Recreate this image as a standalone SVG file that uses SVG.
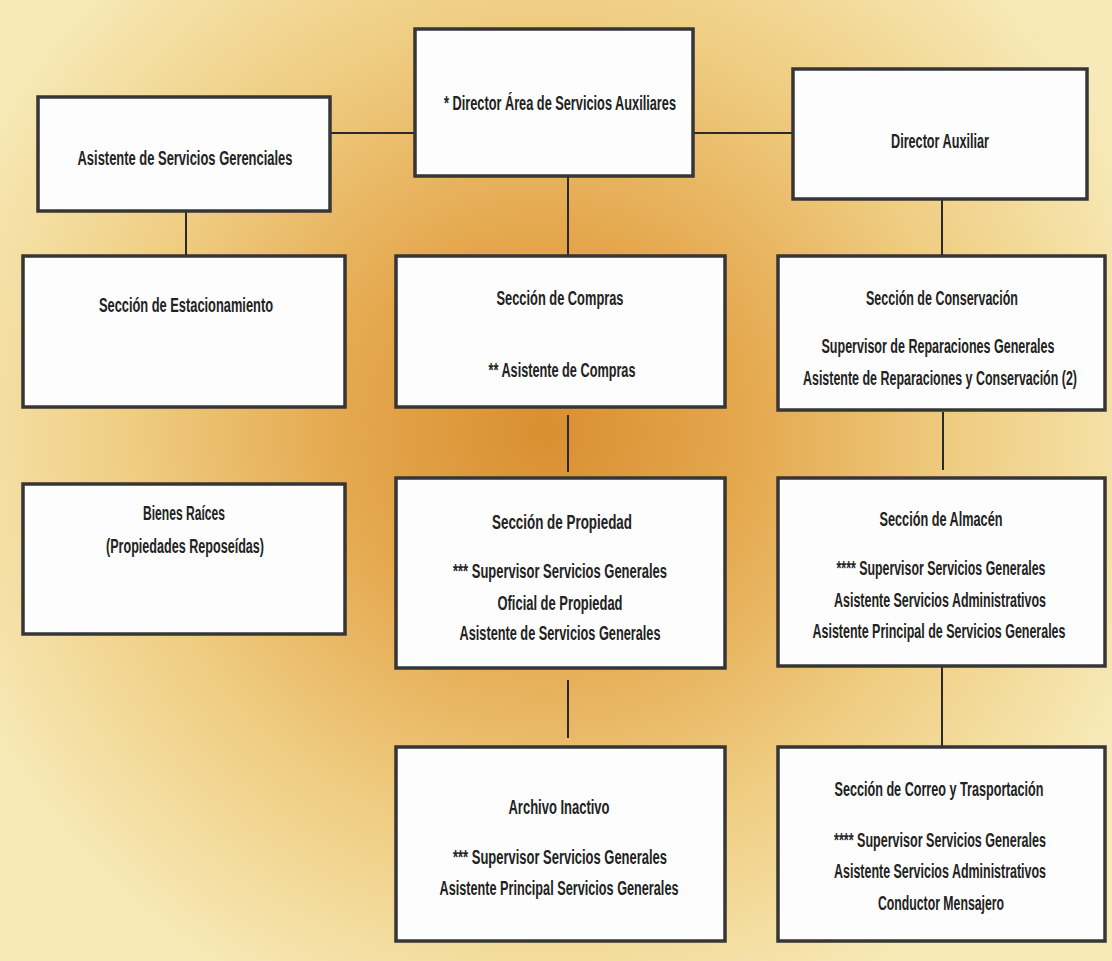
<svg xmlns="http://www.w3.org/2000/svg" width="1112" height="961" viewBox="0 0 1112 961">
<defs>
<radialGradient id="bg" gradientUnits="userSpaceOnUse" cx="545" cy="430" r="640">
<stop offset="0" stop-color="#d98f30"/>
<stop offset="0.3" stop-color="#e4a64c"/>
<stop offset="0.65" stop-color="#efcd82"/>
<stop offset="1" stop-color="#f7eab8"/>
</radialGradient>
<style>
.box{fill:#fdfdfd;stroke:#363636;stroke-width:3.5}
.ln{stroke:#2a2a2a;stroke-width:2;fill:none}
text{font-family:"Liberation Sans",Arial,sans-serif;font-size:20px;font-weight:bold;fill:#222;text-anchor:middle}
</style>
</defs>
<rect x="0" y="0" width="1112" height="961" fill="url(#bg)"/>
<g id="connectors">
<line class="ln" x1="330" y1="133" x2="415" y2="133"/>
<line class="ln" x1="693" y1="133" x2="793" y2="133"/>
<line class="ln" x1="568" y1="176" x2="568" y2="256"/>
<line class="ln" x1="186" y1="211" x2="186" y2="256"/>
<line class="ln" x1="942" y1="199" x2="942" y2="256"/>
<line class="ln" x1="568" y1="415" x2="568" y2="472"/>
<line class="ln" x1="943" y1="412" x2="943" y2="470"/>
<line class="ln" x1="568" y1="680" x2="568" y2="738"/>
<line class="ln" x1="942" y1="666" x2="942" y2="747"/>
</g>
<g id="n-director">
<rect class="box" x="415" y="29" width="278" height="147"/>
<text x="560" y="110" textLength="232" lengthAdjust="spacingAndGlyphs">* Director Área de Servicios Auxiliares</text>
</g>
<g id="n-gerenciales">
<rect class="box" x="38" y="97" width="292" height="114"/>
<text x="185" y="165" textLength="215" lengthAdjust="spacingAndGlyphs">Asistente de  Servicios Gerenciales</text>
</g>
<g id="n-auxiliar">
<rect class="box" x="793" y="69" width="294" height="130"/>
<text x="940" y="148" textLength="98" lengthAdjust="spacingAndGlyphs">Director  Auxiliar</text>
</g>
<g id="n-estacionamiento">
<rect class="box" x="23" y="256" width="322" height="151"/>
<text x="186" y="312" textLength="174" lengthAdjust="spacingAndGlyphs">Sección de Estacionamiento</text>
</g>
<g id="n-compras">
<rect class="box" x="396" y="256" width="329" height="151"/>
<text x="560" y="305" textLength="127" lengthAdjust="spacingAndGlyphs">Sección de Compras</text>
<text x="562" y="377" textLength="147" lengthAdjust="spacingAndGlyphs">** Asistente de Compras</text>
</g>
<g id="n-conservacion">
<rect class="box" x="778" y="256" width="327" height="154"/>
<text x="942" y="305" textLength="152" lengthAdjust="spacingAndGlyphs">Sección de Conservación</text>
<text x="938" y="353" textLength="233" lengthAdjust="spacingAndGlyphs">Supervisor de Reparaciones Generales</text>
<text x="940" y="385" textLength="274" lengthAdjust="spacingAndGlyphs">Asistente de Reparaciones y Conservación (2)</text>
</g>
<g id="n-bienes">
<rect class="box" x="23" y="484" width="322" height="150"/>
<text x="184" y="520" textLength="82" lengthAdjust="spacingAndGlyphs">Bienes Raíces</text>
<text x="185" y="553" textLength="158" lengthAdjust="spacingAndGlyphs">(Propiedades Reposeídas)</text>
</g>
<g id="n-propiedad">
<rect class="box" x="396" y="478" width="329" height="190"/>
<text x="562" y="529" textLength="140" lengthAdjust="spacingAndGlyphs">Sección de Propiedad</text>
<text x="560" y="578" textLength="214" lengthAdjust="spacingAndGlyphs">*** Supervisor  Servicios Generales</text>
<text x="560" y="610" textLength="125" lengthAdjust="spacingAndGlyphs">Oficial de Propiedad</text>
<text x="560" y="640" textLength="201" lengthAdjust="spacingAndGlyphs">Asistente de Servicios Generales</text>
</g>
<g id="n-almacen">
<rect class="box" x="778" y="478" width="327" height="188"/>
<text x="941" y="526" textLength="123" lengthAdjust="spacingAndGlyphs">Sección de Almacén</text>
<text x="941" y="575" textLength="209" lengthAdjust="spacingAndGlyphs">**** Supervisor Servicios Generales</text>
<text x="940" y="607" textLength="212" lengthAdjust="spacingAndGlyphs">Asistente Servicios Administrativos</text>
<text x="939" y="638" textLength="253" lengthAdjust="spacingAndGlyphs">Asistente Principal de Servicios Generales</text>
</g>
<g id="n-archivo">
<rect class="box" x="396" y="747" width="329" height="194"/>
<text x="559" y="814" textLength="101" lengthAdjust="spacingAndGlyphs">Archivo Inactivo</text>
<text x="560" y="864" textLength="214" lengthAdjust="spacingAndGlyphs">*** Supervisor  Servicios Generales</text>
<text x="559" y="895" textLength="239" lengthAdjust="spacingAndGlyphs">Asistente Principal Servicios Generales</text>
</g>
<g id="n-correo">
<rect class="box" x="778" y="747" width="327" height="194"/>
<text x="939" y="796" textLength="209" lengthAdjust="spacingAndGlyphs">Sección de Correo y Trasportación</text>
<text x="940" y="847" textLength="212" lengthAdjust="spacingAndGlyphs">**** Supervisor Servicios Generales</text>
<text x="940" y="878" textLength="212" lengthAdjust="spacingAndGlyphs">Asistente Servicios Administrativos</text>
<text x="941" y="910" textLength="126" lengthAdjust="spacingAndGlyphs">Conductor Mensajero</text>
</g>
</svg>
